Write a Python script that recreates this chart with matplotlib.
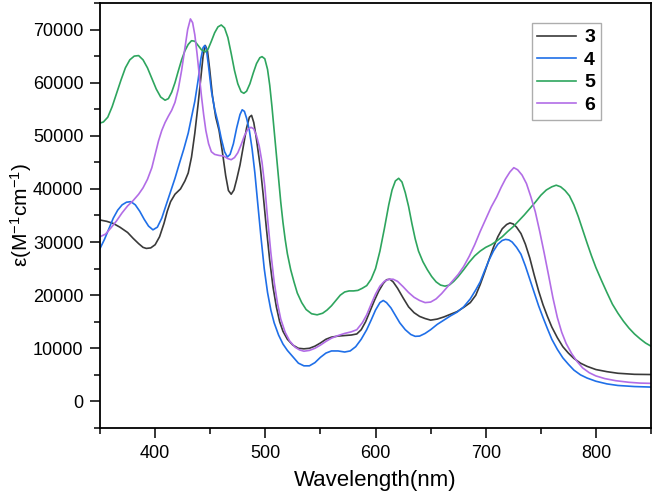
import matplotlib
matplotlib.use('Agg')
import matplotlib.pyplot as plt
from matplotlib.ticker import MultipleLocator

plt.rcParams['font.family'] = ['Liberation Sans', 'DejaVu Sans']
plt.rcParams['mathtext.fontset'] = 'custom'
plt.rcParams['mathtext.rm'] = 'Liberation Sans'
plt.rcParams['mathtext.it'] = 'Liberation Sans'

# Compound 3 (dark gray)
wl3 = [350, 356, 362, 368, 375, 380, 385, 389, 392, 396, 400, 404, 408, 411, 414, 418, 423, 427,
       430, 433, 436, 439, 441.5, 443.5, 445.5, 447.5, 449.5, 452, 455, 458, 461, 464, 466.5, 469,
       471.5, 474, 477, 480, 483, 485.5, 487.5, 489.5, 491.5, 493.5, 495.5, 498, 501, 504, 507, 510,
       513, 516, 520, 525, 530, 535, 540, 545, 550, 555, 560, 566, 572, 578, 583, 587, 591, 595,
       599, 603, 607, 610, 613, 616, 620, 625, 630, 635, 640, 645, 650, 656, 662, 668, 674, 680,
       686, 691, 695, 699, 703, 707, 711, 715, 719, 722, 725, 728, 732, 736, 740, 744, 748, 752,
       756, 760, 765, 770, 775, 780, 786, 792, 800, 810, 820, 835, 850]
eps3 = [34150, 33900, 33500, 32800, 31800, 30700, 29700, 29000, 28800, 28900, 29500, 31000, 33500,
        35800, 37600, 39000, 40000, 41500, 43000, 46000, 50500, 56000, 61000, 65000, 67000, 66000,
        62500, 57500, 53500, 51000, 47000, 42500, 39700, 39000, 39800, 41800, 44500, 48000, 51500,
        53500, 53850, 52500, 50000, 47000, 44000, 39000, 32500, 26500, 21500, 17800, 15000, 13200,
        11700, 10600, 10000, 9900, 10000, 10400, 11000, 11700, 12100, 12300, 12400, 12500, 12700,
        13500, 15000, 17000, 19000, 20800, 22200, 22900, 23000, 22500, 21300, 19500, 17800, 16700,
        16000, 15600, 15300, 15500, 15900, 16400, 16900, 17700, 18600, 20000, 22000, 24300, 26700,
        29000, 31000, 32500, 33300, 33600, 33400, 32800, 31600, 29600, 27000, 23800, 20800, 18200,
        16000, 14000, 12000, 10300, 9100, 8100, 7200, 6600, 6000, 5600, 5300, 5100, 5060]

# Compound 4 (blue)
wl4 = [350, 354, 358, 362, 366, 370, 374, 378, 382, 386, 390, 394, 398, 402, 406, 410, 414, 418,
       422, 426, 430, 433, 436, 439, 441.5, 443.5, 445, 446.5, 448.5, 451, 454, 457, 460, 463, 465.5,
       468, 471, 474, 477, 479, 481, 483, 485.5, 488, 490.5, 493, 496, 499, 502, 505, 508, 512, 516,
       520, 525, 530, 535, 540, 545, 550, 555, 560, 566, 572, 577, 582, 587, 592, 596, 600, 604,
       607, 610, 614, 618, 622, 627, 632, 636, 640, 645, 650, 656, 662, 668, 674, 680, 686, 691,
       695, 699, 703, 707, 711, 715, 718, 721, 724, 728, 732, 736, 740, 744, 748, 752, 756, 760,
       765, 770, 775, 780, 786, 792, 800, 810, 820, 835, 850]
eps4 = [28800, 30500, 32500, 34500, 36000, 37000, 37500, 37600, 37000, 35800, 34300, 33000, 32300,
        32800, 34500, 37000, 39500, 42000, 44800, 47500, 50500, 53500, 56500, 60500, 64500, 66600,
        67000, 66300, 63000, 58500, 55000, 52500, 49500, 47000, 46000, 46500, 48500, 51500, 54000,
        54900, 54600, 53300, 51000, 47500, 43000, 37500, 31000, 25000, 20500, 17200, 14800, 12500,
        10800, 9600, 8400, 7200, 6700, 6700, 7300, 8300, 9100, 9500, 9500, 9300, 9500, 10300, 11700,
        13500, 15300, 17200, 18600, 19000, 18600, 17600, 16200, 14800, 13500, 12600, 12250, 12300,
        12800, 13500, 14500, 15300, 16100, 16800, 17800, 19300, 21000, 22500, 24600, 26600, 28300,
        29600, 30300, 30500, 30400, 30000, 29000, 27700, 25500, 23000, 20500, 18000, 15800, 13700,
        11700, 9800, 8200, 7000, 5900, 5000, 4400, 3800, 3300, 3000, 2800, 2700]

# Compound 5 (green)
wl5 = [350, 353, 357, 361, 365, 369, 373, 377, 381, 385, 389, 393, 397, 401, 405, 409, 412, 415,
       418, 421, 424, 427, 430, 433, 436, 439, 442, 445.5, 448, 451, 454, 457, 460, 463, 466, 469,
       472, 475, 478, 480.5, 483, 486, 489, 492, 495, 497, 499.5, 502, 504, 506, 508, 510, 512, 514,
       516, 518, 520, 523, 526, 529, 533, 537, 542, 547, 552, 556, 560, 564, 568, 572, 576, 580,
       584, 588, 592, 596, 600, 604, 608, 612, 615, 618, 621, 624, 627, 630, 633, 636, 639, 643,
       647, 651, 655, 659, 663, 667, 671, 675, 680, 685, 690, 695, 700, 705, 710, 715, 720, 725,
       730, 735, 740, 745, 750, 755, 760, 764, 768, 772, 776, 780, 784, 788, 792, 796, 800, 805,
       810, 815, 820, 825, 830, 835, 840, 845, 850]
eps5 = [52400, 52600, 53500, 55500, 58000, 60500, 62800, 64300, 65000, 65100, 64300, 62800, 60800,
        58800, 57300, 56700, 57000, 58200, 60000, 62200, 64300, 66000, 67200, 67900, 67800, 67000,
        66200, 65800, 66300, 67800, 69400, 70500, 70860, 70300, 68500, 65500, 62300, 59800, 58300,
        58000, 58400, 59800, 61800, 63600, 64700, 64900, 64500, 62500, 59500, 55500, 51000, 46500,
        42000, 37500, 33700, 30500, 27800, 24800, 22500, 20400, 18600, 17300, 16500, 16300, 16600,
        17200, 18000, 19000, 20000, 20600, 20800, 20800, 20900, 21300, 21800, 23000, 25000, 28300,
        32500, 37000, 39800, 41500, 42000, 41300, 39300, 36700, 33500, 30600, 28300, 26300, 24800,
        23500, 22500, 21900, 21700, 21900, 22600, 23500, 24800, 26200, 27400, 28300, 29000, 29500,
        30200, 31000, 32000, 32900, 34000, 35100, 36300, 37500, 38800, 39800, 40400, 40700, 40400,
        39700, 38700, 37000, 34800, 32300, 29800, 27400, 25200, 22800, 20500, 18300, 16600, 15100,
        13800, 12700, 11800, 11000, 10400]

# Compound 6 (purple)
wl6 = [350, 355, 360, 365, 370, 375, 380, 385, 389, 393, 397, 400, 403, 406, 409, 412, 415, 418,
       421, 424, 427, 429.5, 432, 434, 436, 438, 440, 442, 444, 446, 448.5, 451, 454, 458, 462, 466,
       469, 472, 475, 478, 481, 484, 487, 489.5, 492, 494.5, 497, 499.5, 502, 505, 508, 511, 514,
       518, 522, 527, 531, 535, 540, 545, 550, 555, 560, 566, 572, 578, 583, 588, 592, 596, 600,
       604, 608, 612, 616, 620, 625, 630, 635, 640, 645, 650, 655, 660, 665, 670, 675, 680, 685,
       690, 695, 700, 705, 710, 714, 718, 722, 725.5, 729, 733, 737, 741, 745, 749, 753, 757, 761,
       765, 769, 773, 778, 783, 788, 794, 800, 808, 818, 830, 840, 850]
eps6 = [31000, 31500, 32700, 34000, 35500, 36800, 37800, 39000, 40200, 41800, 44000, 46500, 49000,
        51000, 52500, 53700, 54800, 56300, 58800, 62300, 66500, 70000, 72000, 71300, 69000, 65500,
        61500, 57500, 54000, 51000, 48500, 47000, 46500, 46300, 46200, 45700, 45500, 45900, 46800,
        48300, 50000, 51200, 51600, 51300, 50000, 48000, 45000, 40500, 34500, 28000, 22500, 18500,
        15500, 13000, 11400, 10200, 9700, 9450, 9600, 10000, 10600, 11300, 11900, 12400, 12800, 13100,
        13500, 14800, 16300, 18300, 20200, 21700, 22600, 23000, 23000, 22600, 21600, 20500, 19600,
        19000, 18600, 18700, 19300, 20300, 21500, 22700, 23900, 25400, 27300, 29500, 32000, 34300,
        36600, 38500, 40300, 41900, 43200, 44000, 43600, 42600, 41000, 38500, 35700, 32000, 28000,
        23800, 19500, 15800, 13000, 10900, 9000, 7500, 6300, 5400, 4800, 4300, 3900, 3600, 3450, 3400]

labels = ['3', '4', '5', '6']
colors = ['#3a3a3a', '#1f6fe8', '#2ea55e', '#b26de6']

fig = plt.figure(figsize=(6.54, 4.98), dpi=100)
ax = fig.add_axes([0.153, 0.1406, 0.8424, 0.8534])

series = [(wl3, eps3), (wl4, eps4), (wl5, eps5), (wl6, eps6)]
for (wl, e), lab, c in zip(series, labels, colors):
    ax.plot(wl, e, color=c, lw=1.2, label=lab)

ax.set_xlim(350, 850)
ax.set_ylim(-5000, 75000)
ax.xaxis.set_major_locator(MultipleLocator(100))
ax.xaxis.set_minor_locator(MultipleLocator(50))
ax.yaxis.set_major_locator(MultipleLocator(10000))
ax.yaxis.set_minor_locator(MultipleLocator(5000))
ax.set_yticks(range(0, 70001, 10000))
ax.tick_params(which='both', direction='out', top=False, right=False, width=1.1, labelsize=13)
ax.tick_params(which='major', length=7, pad=5)
ax.tick_params(which='minor', length=4)
for s in ax.spines.values():
    s.set_linewidth(1.3)

ax.set_xlabel('Wavelength(nm)', fontsize=16, labelpad=6)
ax.set_ylabel('ε(M$^{-1}$cm$^{-1}$)', fontsize=15, labelpad=-1)

leg = ax.legend(loc='upper right', bbox_to_anchor=(0.909, 0.953),
                prop={'weight': 'bold', 'size': 14}, frameon=True, fancybox=False,
                handlelength=2.0, handletextpad=0.4, labelspacing=0.25,
                borderpad=0.3, borderaxespad=0)
leg.get_frame().set_edgecolor('#999999')
leg.get_frame().set_linewidth(1.0)

fig.savefig('out.png', dpi=100)
